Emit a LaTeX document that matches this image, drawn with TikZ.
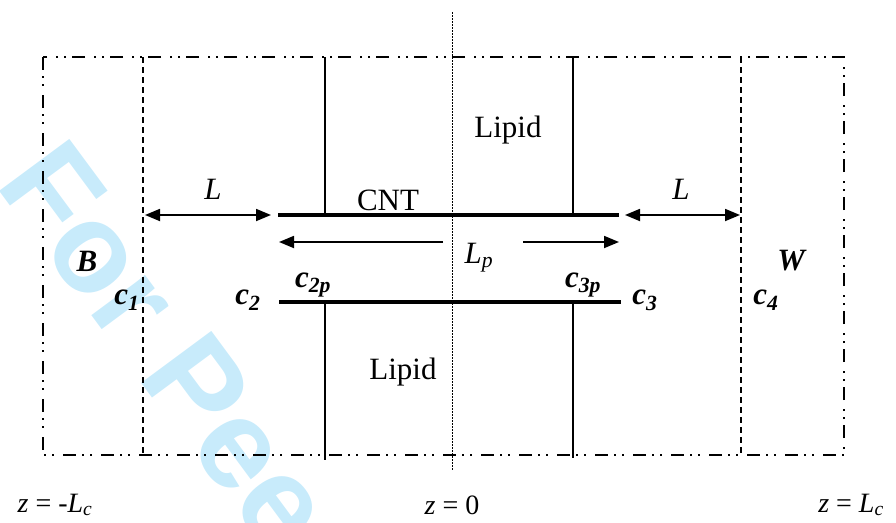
\documentclass[tikz,border=0pt]{standalone}
\usepackage{fontspec}
\setmainfont{Liberation Serif}
\newfontfamily\wmfont{Liberation Sans}
\usetikzlibrary{arrows.meta}
\definecolor{wmcyan}{RGB}{200,235,251}
\tikzset{
  frameline/.style={line width=2pt, dash pattern=on 13pt off 6pt on 2pt off 6pt on 2pt off 9pt},
  cellline/.style={line width=1.6pt, dash pattern=on 6pt off 4pt},
  axisline/.style={line width=1pt, dash pattern=on 1.5pt off 1.5pt},
  lipidline/.style={line width=1.5pt},
  tubeline/.style={line width=4pt},
  dimarrow/.style={line width=1.8pt, {Triangle[length=15pt,width=12pt]}-{Triangle[length=15pt,width=12pt]}},
  onearrow/.style={line width=1.8pt, -{Triangle[length=15pt,width=12pt]}},
  lbl/.style={inner sep=0pt, font=\fontsize{31}{33}\selectfont},
  zlbl/.style={inner sep=0pt, font=\fontsize{28}{30}\selectfont},
}
\begin{document}
\begin{tikzpicture}[x=1pt,y=-1pt]
\useasboundingbox (0,0) rectangle (896,522);
% watermark
\begin{scope}
\clip (0,0) rectangle (896,522);
\node[anchor=base west, rotate=-53.5, inner sep=0pt, text=wmcyan,
      font=\wmfont\bfseries\fontsize{127}{127}\selectfont] (wm) at (-6,184) {For Peer Review};
\end{scope}
% structural coordinates
\coordinate (tl) at (43,57);
\coordinate (br) at (844,455);
\coordinate (d1t) at (143,57);  \coordinate (d1b) at (143,455);
\coordinate (d4t) at (741,57);  \coordinate (d4b) at (741,455);
\coordinate (axt) at (452,12);  \coordinate (axb) at (452,470);
\coordinate (u1t) at (325,57);  \coordinate (u1b) at (325,215);
\coordinate (u2t) at (573,57);  \coordinate (u2b) at (573,215);
\coordinate (l1t) at (325,302); \coordinate (l1b) at (325,460);
\coordinate (l2t) at (573,302); \coordinate (l2b) at (573,458);
\coordinate (cntl) at (278,215); \coordinate (cntr) at (619,215);
\coordinate (lowl) at (279,302); \coordinate (lowr) at (621,302);
\coordinate (aL1s) at (145,215); \coordinate (aL1e) at (271,215);
\coordinate (aL2s) at (625,215); \coordinate (aL2e) at (740,215);
\coordinate (pLs) at (443,242); \coordinate (pLe) at (279,242);
\coordinate (pRs) at (523,242); \coordinate (pRe) at (619,242);
% lines
\draw[axisline] (axt) -- (axb);
\draw[frameline] (tl) rectangle (br);
\draw[cellline] (d1t) -- (d1b);
\draw[cellline] (d4t) -- (d4b);
\draw[lipidline] (u1t) -- (u1b);
\draw[lipidline] (u2t) -- (u2b);
\draw[lipidline] (l1t) -- (l1b);
\draw[lipidline] (l2t) -- (l2b);
\draw[tubeline] (cntl) -- (cntr);
\draw[tubeline] (lowl) -- (lowr);
\draw[dimarrow] (aL1s) -- (aL1e);
\draw[dimarrow] (aL2s) -- (aL2e);
\draw[onearrow] (pLs) -- (pLe);
\draw[onearrow] (pRs) -- (pRe);
% labels
\node[lbl] (Ll) at (213,189) {\textit{L}};
\node[lbl] (Lr) at (681,189) {\textit{L}};
\node[lbl] (cnt) at (388,200) {CNT};
\node[lbl] (Lp) at (479,258) {\textit{L}\textsubscript{\textit{p}}};
\node[lbl] (lip1) at (508,130) {Lipid};
\node[lbl] (lip2) at (403,372) {Lipid};
\node[lbl] (B) at (87,261) {\textbf{\textit{B}}};
\node[lbl] (W) at (792,261) {\textbf{\textit{W}}};
\node[lbl] (c1) at (127,300) {\textbf{\textit{c}}\textsubscript{\textbf{\textit{1}}}};
\node[lbl] (c2) at (248,300) {\textbf{\textit{c}}\textsubscript{\textbf{\textit{2}}}};
\node[lbl] (c2p) at (313,285) {\textbf{\textit{c}}\textsubscript{\textbf{\textit{2p}}}};
\node[lbl] (c3p) at (583,285) {\textbf{\textit{c}}\textsubscript{\textbf{\textit{3p}}}};
\node[lbl] (c3) at (645,300) {\textbf{\textit{c}}\textsubscript{\textbf{\textit{3}}}};
\node[lbl] (c4) at (766,300) {\textbf{\textit{c}}\textsubscript{\textbf{\textit{4}}}};
\node[zlbl] (zl) at (55,505) {\textit{z} = -\textit{L}\textsubscript{\textit{c}}};
\node[zlbl] (z0) at (452,505) {\textit{z} = 0};
\node[zlbl] (zr) at (851,505) {\textit{z} = \textit{L}\textsubscript{\textit{c}}};
\end{tikzpicture}
\end{document}
